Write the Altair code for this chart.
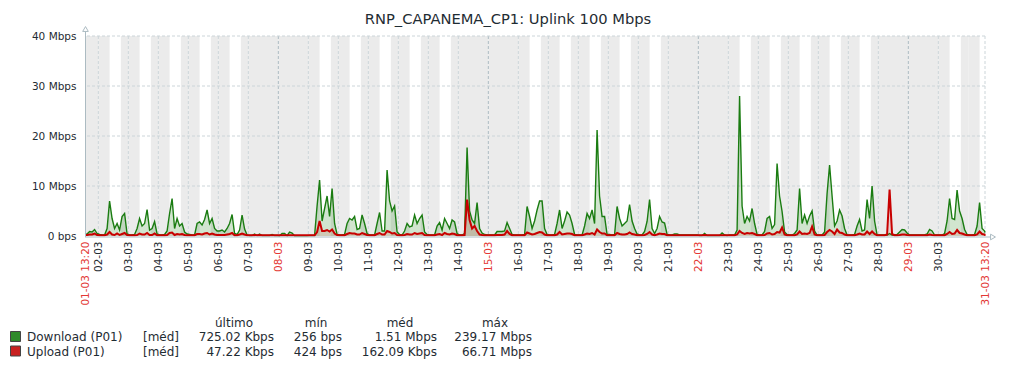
import altair as alt
import pandas as pd

# ---------------- data (Mbps, 2-hour values centred on 01:00, 03:00 ... 23:00) -------------
# first day starts at 13:20 -> values for 15h..23h ; last day ends 13:20 -> values for 01h..13h
download_by_day = [
    [0.4, 0.9, 0.8, 1.3, 0.5],                                          # 01-03
    [0.3, 0.2, 0.2, 1.5, 7.0, 3.5, 1.5, 2.5, 1.2, 3.9, 4.5, 0.4],       # 02-03
    [0.2, 0.2, 0.3, 1.5, 3.5, 2.0, 2.5, 5.3, 1.2, 1.5, 2.9, 0.4],       # 03-03
    [0.2, 0.2, 0.3, 1.0, 4.5, 7.5, 1.5, 3.5, 2.0, 2.5, 0.8, 0.4],       # 04-03
    [0.3, 0.2, 0.2, 2.5, 2.8, 2.2, 3.3, 5.2, 2.5, 3.5, 1.5, 1.0],       # 05-03
    [1.0, 1.2, 0.8, 1.5, 2.5, 4.3, 0.5, 0.3, 1.2, 4.2, 1.4, 0.2],       # 06-03
    [0.1, 0.1, 0.4, 0.1, 0.4, 0.1, 0.1, 0.1, 0.1, 0.3, 0.1, 0.1],       # 07-03
    [0.05, 0.5, 0.5, 0.05, 0.8, 0.6, 0.05, 0.05, 0.05, 0.05, 0.05, 0.05],  # 08-03
    [0.1, 0.1, 0.1, 6.0, 11.2, 3.0, 5.5, 8.0, 3.9, 9.5, 2.5, 0.3],      # 09-03
    [0.2, 0.2, 0.3, 2.5, 3.5, 3.2, 3.9, 1.3, 1.5, 4.2, 2.5, 0.5],       # 10-03
    [0.2, 0.2, 0.2, 2.5, 4.7, 1.0, 1.0, 13.2, 7.0, 5.0, 6.0, 0.8],      # 11-03
    [0.3, 0.2, 1.0, 2.5, 1.8, 2.0, 4.2, 2.5, 3.5, 4.2, 0.8, 0.3],       # 12-03
    [0.2, 0.2, 0.2, 2.0, 2.7, 1.2, 3.5, 2.5, 1.5, 3.2, 2.8, 0.5],       # 13-03
    [0.2, 0.2, 0.5, 17.7, 5.0, 3.2, 2.5, 6.7, 1.5, 0.6, 0.3, 0.2],      # 14-03
    [0.2, 0.2, 0.2, 0.9, 0.9, 0.9, 1.0, 2.7, 1.5, 0.3, 0.2, 0.2],       # 15-03
    [0.2, 0.2, 0.3, 5.9, 3.9, 1.5, 3.0, 5.2, 7.0, 7.0, 1.5, 0.3],       # 16-03
    [0.2, 0.2, 0.3, 2.5, 5.2, 1.5, 3.0, 4.8, 4.2, 2.5, 0.3, 0.2],       # 17-03
    [0.2, 0.2, 2.0, 4.5, 3.5, 5.2, 2.5, 21.2, 8.0, 3.9, 3.9, 0.3],      # 18-03
    [0.3, 0.2, 0.3, 5.9, 3.5, 2.0, 2.5, 3.0, 6.3, 3.0, 1.5, 0.4],       # 19-03
    [0.2, 0.2, 0.9, 2.9, 7.3, 1.5, 0.5, 1.5, 3.9, 2.8, 2.6, 0.3],       # 20-03
    [0.2, 0.2, 0.4, 0.4, 0.2, 0.2, 0.2, 0.2, 0.2, 0.2, 0.2, 0.2],       # 21-03
    [0.1, 0.1, 0.5, 0.1, 0.1, 0.1, 0.1, 0.1, 0.1, 0.6, 0.2, 0.1],       # 22-03
    [0.2, 0.2, 0.2, 1.2, 28.0, 6.0, 2.5, 3.9, 3.0, 5.5, 2.5, 0.3],      # 23-03
    [0.2, 0.2, 0.9, 3.5, 3.9, 1.5, 2.3, 14.5, 8.0, 4.9, 0.8, 0.3],      # 24-03
    [0.2, 0.2, 0.5, 1.2, 9.5, 2.5, 4.2, 2.5, 4.0, 5.0, 1.0, 0.2],       # 25-03
    [0.2, 0.2, 0.8, 8.5, 14.2, 8.0, 2.0, 3.0, 5.2, 4.0, 1.5, 0.2],      # 26-03
    [0.2, 0.2, 0.3, 2.0, 3.3, 1.0, 1.2, 7.3, 3.5, 10.0, 3.0, 0.2],      # 27-03
    [0.2, 0.2, 0.2, 0.2, 0.5, 0.2, 0.2, 0.3, 0.8, 1.3, 1.2, 0.6],       # 28-03
    [0.2, 0.2, 0.2, 0.2, 0.2, 0.2, 0.2, 0.4, 1.3, 1.0, 0.2, 0.2],       # 29-03
    [0.2, 0.2, 0.5, 3.0, 7.5, 3.5, 3.3, 9.2, 5.0, 3.5, 1.3, 0.3],       # 30-03
    [0.2, 0.2, 0.3, 2.0, 6.7, 1.5, 1.0],                                 # 31-03
]
upload_by_day = [
    [0.2, 0.3, 0.3, 0.5, 0.2],
    [0.15, 0.15, 0.15, 0.3, 0.8, 0.3, 0.2, 0.5, 0.2, 0.4, 0.6, 0.2],
    [0.15, 0.15, 0.15, 0.2, 0.5, 0.3, 0.3, 0.6, 0.2, 0.2, 0.5, 0.15],
    [0.15, 0.15, 0.15, 0.2, 0.6, 0.7, 0.2, 0.4, 0.3, 0.4, 0.2, 0.15],
    [0.15, 0.15, 0.15, 0.4, 0.4, 0.3, 0.5, 0.6, 0.3, 0.5, 0.3, 0.2],
    [0.2, 0.2, 0.2, 0.3, 0.4, 0.6, 0.15, 0.15, 0.3, 0.5, 0.3, 0.15],
    [0.15, 0.15, 0.2, 0.15, 0.2, 0.15, 0.15, 0.15, 0.15, 0.15, 0.15, 0.15],
    [0.15, 0.15, 0.15, 0.15, 0.15, 0.15, 0.15, 0.15, 0.15, 0.15, 0.15, 0.15],
    [0.15, 0.15, 0.15, 0.8, 3.0, 1.0, 1.0, 1.2, 0.9, 1.3, 0.5, 0.2],
    [0.15, 0.15, 0.15, 0.4, 0.6, 0.5, 0.5, 0.3, 0.3, 0.6, 0.4, 0.2],
    [0.15, 0.15, 0.15, 0.4, 0.6, 0.3, 0.3, 1.0, 0.8, 0.5, 0.6, 0.2],
    [0.15, 0.15, 0.2, 0.4, 0.3, 0.3, 0.6, 0.4, 0.5, 0.6, 0.2, 0.15],
    [0.15, 0.15, 0.15, 0.3, 0.4, 0.2, 0.6, 0.4, 0.3, 0.5, 0.4, 0.15],
    [0.15, 0.15, 0.2, 7.3, 3.2, 1.5, 2.0, 1.0, 0.3, 0.2, 0.15, 0.15],
    [0.15, 0.15, 0.15, 0.2, 0.2, 0.2, 0.3, 1.0, 0.4, 0.15, 0.15, 0.15],
    [0.15, 0.15, 0.15, 0.7, 0.5, 0.3, 0.4, 0.6, 0.8, 0.7, 0.3, 0.15],
    [0.15, 0.15, 0.15, 0.3, 0.8, 0.3, 0.4, 0.5, 0.5, 0.4, 0.15, 0.15],
    [0.15, 0.15, 0.3, 0.5, 0.4, 0.6, 0.3, 1.3, 0.8, 0.5, 0.5, 0.15],
    [0.15, 0.15, 0.15, 0.6, 0.4, 0.3, 0.3, 0.4, 0.7, 0.4, 0.3, 0.15],
    [0.15, 0.15, 0.2, 0.4, 0.8, 0.3, 0.15, 0.3, 0.5, 0.4, 0.4, 0.15],
    [0.15, 0.15, 0.15, 0.15, 0.15, 0.15, 0.15, 0.15, 0.15, 0.15, 0.15, 0.15],
    [0.15, 0.15, 0.2, 0.15, 0.15, 0.15, 0.15, 0.15, 0.15, 0.15, 0.15, 0.15],
    [0.15, 0.15, 0.15, 0.3, 1.0, 0.6, 0.4, 0.6, 0.5, 0.6, 0.4, 0.15],
    [0.15, 0.15, 0.2, 0.5, 0.6, 0.3, 0.4, 0.8, 0.7, 1.7, 0.3, 0.15],
    [0.15, 0.15, 0.15, 0.3, 0.9, 0.4, 0.5, 0.4, 0.6, 1.9, 0.3, 0.15],
    [0.15, 0.15, 0.2, 0.8, 1.2, 0.9, 0.4, 1.3, 0.7, 0.6, 0.3, 0.15],
    [0.15, 0.15, 0.15, 0.3, 0.5, 0.3, 0.3, 0.9, 0.4, 0.9, 0.4, 0.15],
    [0.15, 0.15, 0.15, 0.3, 9.3, 0.4, 0.15, 0.15, 0.2, 0.3, 0.3, 0.2],
    [0.15, 0.15, 0.15, 0.15, 0.15, 0.15, 0.15, 0.15, 0.3, 0.2, 0.15, 0.15],
    [0.15, 0.15, 0.15, 0.4, 0.8, 0.4, 0.5, 1.2, 0.6, 0.5, 0.3, 0.15],
    [0.15, 0.15, 0.15, 0.3, 0.9, 0.4, 0.3],
]
download_edges = [0.3, 0.7]   # values at 01-03 13:20 and 31-03 13:20
upload_edges = [0.2, 0.05]

y_ticks = [0, 10, 20, 30, 40]
legend_names = ["Download (P01)", "Upload (P01)"]
legend_func = ["[méd]", "[méd]"]
legend_headers = ["último", "mín", "méd", "máx"]
last_vals = ["725.02 Kbps", "47.22 Kbps"]
min_vals = ["256 bps", "424 bps"]
avg_vals = ["1.51 Mbps", "162.09 Kbps"]
max_vals = ["239.17 Mbps", "66.71 Mbps"]
title_text = "RNP_CAPANEMA_CP1: Uplink 100 Mbps"

# ---------------- styling ---------------------------------------------------------------
FONT = "DejaVu Sans"
TXT = "#1f2c33"
RED_TXT = "#e33734"
GREEN = "#1a7c11"
RED = "#c80000"
GRID = "#ccd5d9"
MAIN_GRID = "#acbbc2"
AXIS = "#acbbc2"
NONWORK = "#ebebeb"
PX, PY = 85, 36          # page position of plot origin
W, H = 900, 200

START = pd.Timestamp("2026-03-01 13:20", tz="UTC")
END = pd.Timestamp("2026-03-31 13:20", tz="UTC")
MAR1 = pd.Timestamp("2026-03-01", tz="UTC")


def ms(t):
    return int(t.timestamp() * 1000)


S_MS, E_MS = ms(START), ms(END)

rows = [{"t": S_MS, "dl": download_edges[0], "ul": upload_edges[0]}]
for i, (dvals, uvals) in enumerate(zip(download_by_day, upload_by_day)):
    day = MAR1 + pd.Timedelta(days=i)
    first_bin = 12 - len(dvals) if i == 0 else 0
    for j, (dv, uv) in enumerate(zip(dvals, uvals)):
        t = day + pd.Timedelta(hours=2 * (first_bin + j) + 1)
        rows.append({"t": ms(t), "dl": dv, "ul": uv})
rows.append({"t": E_MS, "dl": download_edges[1], "ul": upload_edges[1]})
series = pd.DataFrame(rows)

# non-working-time bands (Mon-Fri 09:00-18:00 is working time)
bands = []
for i in range(31):
    day = MAR1 + pd.Timedelta(days=i)
    nxt = day + pd.Timedelta(days=1)
    if day.weekday() >= 5:
        segs = [(day, nxt)]
    else:
        segs = [(day, day + pd.Timedelta(hours=9)), (day + pd.Timedelta(hours=18), nxt)]
    for a, b in segs:
        a, b = max(a, START), min(b, END)
        if b > a:
            bands.append({"t": ms(a), "t2": ms(b)})
bands = pd.DataFrame(bands)

midnights = [MAR1 + pd.Timedelta(days=i) for i in range(1, 30)]   # 02-03 .. 30-03
light_lines = pd.DataFrame({"t": [ms(d) for d in midnights if d.weekday() != 6] + [E_MS]})
main_lines = pd.DataFrame({"t": [ms(d) for d in midnights if d.weekday() == 6]})
hgrid = pd.DataFrame({"v": [v for v in y_ticks if v > 0]})

xscale = alt.Scale(type="utc", domain=[S_MS, E_MS])
yscale = alt.Scale(domain=[0, 40], nice=False)

x_axis = alt.Axis(
    values=[S_MS] + [ms(d) for d in midnights] + [E_MS],
    labelExpr=(f"(time(datum.value) == {S_MS} || time(datum.value) == {E_MS}) ? "
               "utcFormat(datum.value, '%d-%m %H:%M') : utcFormat(datum.value, '%d-%m')"),
    labelAngle=270, labelAlign="right", labelBaseline="middle", labelPadding=5,
    ticks=False, domain=False, grid=False, title=None,
    labelFont=FONT, labelFontSize=10.5,
    labelColor={"condition": {"test": f"utcday(datum.value) == 0 || time(datum.value) == {E_MS}",
                              "value": RED_TXT}, "value": TXT},
    labelOverlap=False, labelFlush=False, labelBound=False,
)
y_axis = alt.Axis(
    values=y_ticks,
    labelExpr="datum.value == 0 ? '0 bps' : datum.value + ' Mbps'",
    ticks=False, domain=False, grid=False, title=None, labelPadding=9,
    labelFont=FONT, labelFontSize=10.5, labelColor=TXT,
)


def X(field):
    return alt.X(field, scale=xscale, axis=x_axis)


def Y(field):
    return alt.Y(field, scale=yscale, axis=y_axis)


band_layer = alt.Chart(bands).mark_rect(fill=NONWORK).encode(x=X("t:T"), x2="t2:T")
vlight = alt.Chart(light_lines).mark_rule(color=GRID, strokeDash=[3, 2], strokeWidth=1).encode(x=X("t:T"))
vmain = alt.Chart(main_lines).mark_rule(color=MAIN_GRID, strokeDash=[3, 2], strokeWidth=1).encode(x=X("t:T"))
hlines = alt.Chart(hgrid).mark_rule(color=GRID, strokeDash=[3, 2], strokeWidth=1).encode(y=Y("v:Q"))

INTERP = "linear"
base = alt.Chart(series).encode(x=X("t:T"))
dl_area = base.mark_area(color=GREEN, opacity=0.2, interpolate=INTERP).encode(y=Y("dl:Q"))
dl_line = base.mark_line(color=GREEN, strokeWidth=1.4, interpolate=INTERP).encode(y=Y("dl:Q"))
ul_area = base.mark_area(color=RED, opacity=0.12, interpolate=INTERP).encode(y=Y("ul:Q"))
ul_line = base.mark_line(color=RED, strokeWidth=2, interpolate=INTERP).encode(y=Y("ul:Q"))

one = alt.Data(values=[{}])
yaxis_line = alt.Chart(one).mark_rule(color=AXIS, strokeWidth=1).encode(
    x=alt.value(0.5), y=alt.value(-5), y2=alt.value(H + 1))
xaxis_line = alt.Chart(one).mark_rule(color=AXIS, strokeWidth=1).encode(
    x=alt.value(0), x2=alt.value(W + 5), y=alt.value(H + 1))
yarrow = alt.Chart(one).mark_point(shape="triangle-up", size=32, fill="white", stroke=AXIS,
                                   strokeWidth=1, opacity=1).encode(
    x=alt.value(0.5), y=alt.value(-7))
xarrow = alt.Chart(one).mark_point(shape="triangle-right", size=32, fill="white", stroke=AXIS,
                                   strokeWidth=1, opacity=1).encode(
    x=alt.value(W + 8), y=alt.value(H + 1))


def text_at(s, x, y, align="left", size=12, color=TXT):
    return alt.Chart(one).mark_text(text=s, align=align, baseline="alphabetic", font=FONT,
                                    fontSize=size, color=color).encode(
        x=alt.value(x - PX), y=alt.value(y - PY))


title_layer = text_at(title_text, 508, 24, align="center", size=14.7)

legend_layers = []
header_x = [234, 316, 400, 495]
for h, hx in zip(legend_headers, header_x):
    legend_layers.append(text_at(h, hx, 327, align="center"))
row_y = [341, 355.5]
sq_colors = ["#2f8a2b", "#c82020"]
col_right = [274, 342, 437, 532]
for r in range(2):
    y = row_y[r]
    legend_layers.append(alt.Chart(one).mark_rect(fill=sq_colors[r], stroke="#444", strokeWidth=1).encode(
        x=alt.value(10.5 - PX), x2=alt.value(20.5 - PX), y=alt.value(y - 9.5 - PY), y2=alt.value(y + 0.5 - PY)))
    legend_layers.append(text_at(legend_names[r], 27, y))
    legend_layers.append(text_at(legend_func[r], 143, y))
    for vals, cx in zip([last_vals, min_vals, avg_vals, max_vals], col_right):
        legend_layers.append(text_at(vals[r], cx, y, align="right"))

chart = alt.layer(
    band_layer, vlight, vmain, hlines, dl_area, dl_line, ul_area, ul_line,
    yaxis_line, xaxis_line, yarrow, xarrow, title_layer, *legend_layers,
).properties(
    width=W, height=H,
    padding={"left": 77, "top": 28, "right": 23, "bottom": 124},
    autosize=alt.AutoSizeParams(type="none"),
    background="white",
).configure_view(stroke=None)

chart.save("out.html", embed_options={"renderer": "svg", "actions": False})
